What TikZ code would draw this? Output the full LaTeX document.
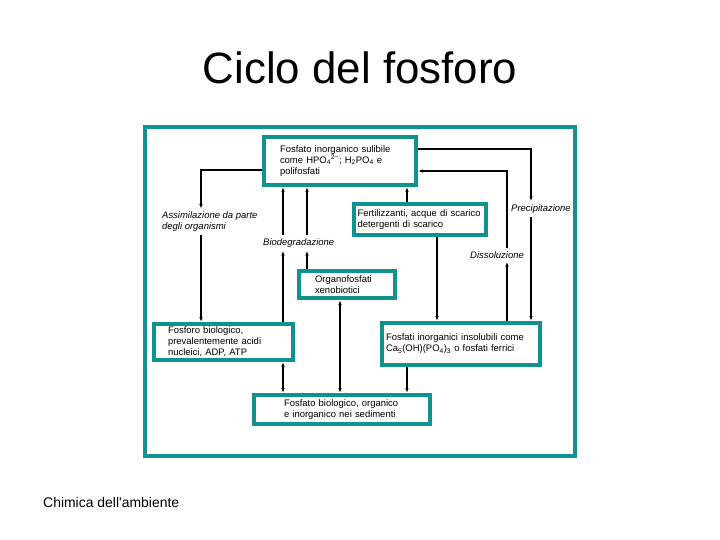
\documentclass[tikz,border=0pt]{standalone}
\usepackage{fontspec}
\setmainfont{Liberation Sans}
\usepackage{xcolor}
\usepackage{tikz}
\usetikzlibrary{arrows.meta,positioning,calc}
\definecolor{cicloteal}{RGB}{16,146,144}
\tikzset{
  ciclobox/.style={
    rectangle,
    draw=cicloteal,
    line width=4bp,
    fill=white,
    align=left,
    inner ysep=2bp,
    font=\fontsize{9.5}{11}\selectfont
  },
  procname/.style={
    align=left,
    inner xsep=0pt,
    inner ysep=3bp,
    font=\fontsize{9.5}{11}\selectfont\itshape
  },
  flow/.style={-{Latex[length=5bp,width=3.5bp]}, line width=1.2bp, black},
  flow2/.style={{Latex[length=5bp,width=3.5bp]}-{Latex[length=5bp,width=3.5bp]}, line width=1.2bp, black}
}

\begin{document}
\begin{tikzpicture}[x=1bp,y=-1bp]
\useasboundingbox (0,0) rectangle (720,540);
\node[font=\fontsize{44}{50}\selectfont] (title) at (360,68) {Ciclo del fosforo};
\node[anchor=west, inner sep=0pt, font=\fontsize{14}{16}\selectfont] (footer) at (43,503) {Chimica dell\textquotesingle ambiente};
\draw[cicloteal, line width=3.5bp] (145,127) rectangle (575,456);
\node[ciclobox, inner xsep=16bp, text width=120bp, minimum height=48bp] (inorg) at (340,161) {Fosfato inorganico sulibile\\come HPO\textsubscript{4}\textsuperscript{2−}; H\textsubscript{2}PO\textsubscript{4} e\\polifosfati};
\node[ciclobox, inner xsep=3.5bp, text width=125bp, minimum height=31bp] (fert) at (420,220) {Fertilizzanti, acque di scarico\\detergenti di scarico};
\node[ciclobox, inner xsep=16bp, text width=64bp, minimum height=27bp] (organo) at (347,284.5) {Organofosfati\\xenobiotici};
\node[ciclobox, inner xsep=14bp, text width=111bp, minimum height=36bp] (fosforo) at (223.5,342) {Fosforo biologico,\\prevalentemente acidi\\nucleici, ADP, ATP};
\node[ciclobox, inner xsep=4bp, text width=150bp, minimum height=42bp] (insol) at (461,344) {Fosfati inorganici insolubili come\\Ca\textsubscript{5}(OH)(PO\textsubscript{4})\textsubscript{3} o fosfati ferrici};
\node[ciclobox, inner xsep=30bp, text width=116bp, minimum height=29bp] (sedim) at (342,409.5) {Fosfato biologico, organico\\e inorganico nei sedimenti};
\node[procname, anchor=west] (assim) at (162,222) {Assimilazione da parte\\degli organismi};
\node[procname, anchor=west] (biodeg) at (263,243) {Biodegradazione};
\node[procname, anchor=west] (precip) at (511,209) {Precipitazione};
\node[procname, anchor=west] (dissol) at (470,255) {Dissoluzione};
\coordinate (xassim) at (201,0);
\coordinate (xbio) at (283,0);
\coordinate (xorg) at (307,0);
\coordinate (xsed) at (340,0);
\coordinate (xmid) at (407,0);
\coordinate (xfert) at (437,0);
\coordinate (xdiss) at (507,0);
\coordinate (xprec) at (531,0);
\draw[flow] ([yshift=-9bp]inorg.west) -| (xassim |- assim.north);
\draw[flow] (xassim |- assim.south) -- (xassim |- fosforo.north);
\draw[flow] (xbio |- fosforo.north) -- (xbio |- biodeg.south);
\draw[flow] (xbio |- biodeg.north) -- (xbio |- inorg.south);
\draw[flow] (xorg |- organo.north) -- (xorg |- biodeg.south);
\draw[flow] (xorg |- biodeg.north) -- (xorg |- inorg.south);
\draw[flow] (xmid |- fert.north) -- (xmid |- inorg.south);
\draw[flow] ([yshift=12bp]inorg.east) -| (xprec |- precip.north);
\draw[flow] (xprec |- precip.south) -- (xprec |- insol.north);
\draw[flow] (xdiss |- insol.north) -- (xdiss |- dissol.south);
\draw[flow] (xdiss |- dissol.north) |- ([yshift=-10bp]inorg.east);
\draw[flow] (xfert |- fert.south) -- (xfert |- insol.north);
\draw[flow2] (xsed |- organo.south) -- (xsed |- sedim.north);
\draw[flow] (xmid |- insol.south) -- (xmid |- sedim.north);
\draw[flow2] (xbio |- sedim.north) -- (xbio |- fosforo.south);
\end{tikzpicture}
\end{document}
